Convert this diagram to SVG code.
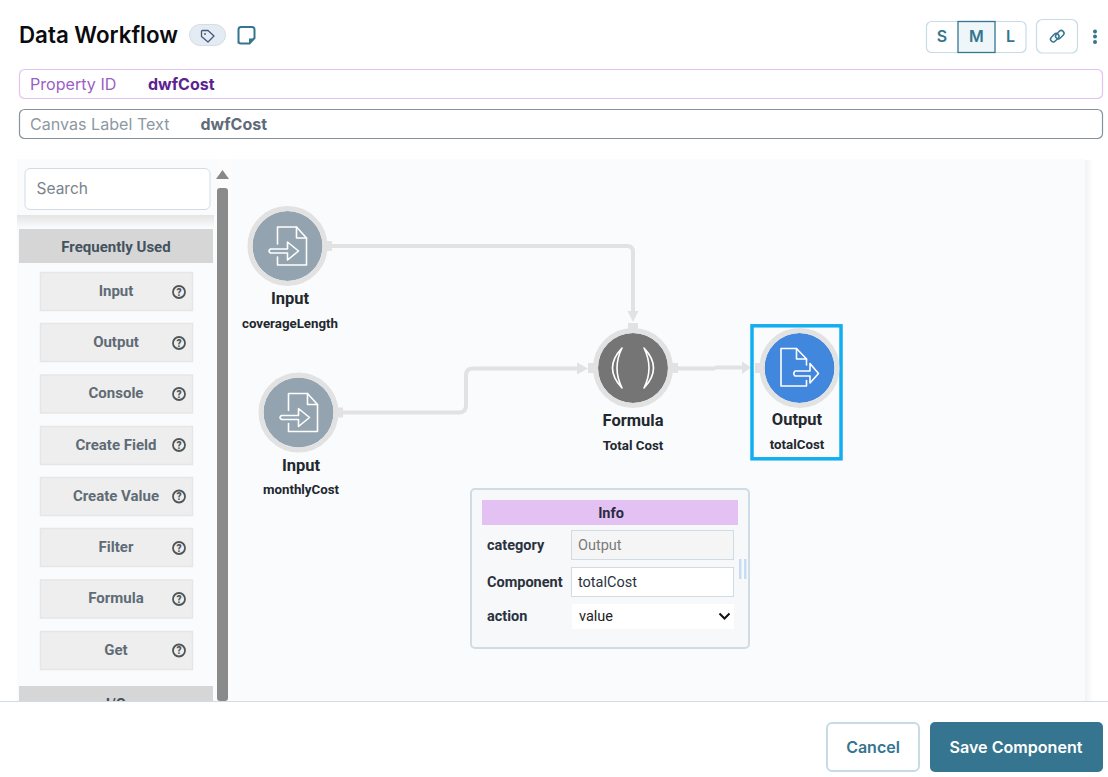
<svg xmlns="http://www.w3.org/2000/svg" width="1108" height="777" viewBox="0 0 1108 777">
<defs>
<style>
.i{font-family:Inter,"Liberation Sans",sans-serif}
.r{font-family:Roboto,"Liberation Sans",sans-serif}
.pal{fill:#eeeeee;stroke:#e6e6e6;stroke-width:1.500}
.palt{font-family:Roboto,"Liberation Sans",sans-serif;font-size:15px;font-weight:700;fill:#5f6b75;text-anchor:middle}
.help{fill:none;stroke:#4f565a;stroke-width:1.800}
.helpt{font-family:Roboto,"Liberation Sans",sans-serif;font-size:10px;font-weight:900;fill:#4f565a;text-anchor:middle}
.ring{fill:none;stroke:#e2e2e2;stroke-width:5}
.ic{fill:none;stroke:#fff;stroke-width:1.600;stroke-linejoin:round;stroke-linecap:round}
.port{fill:#e2e2e2}
.title{font-family:Roboto,"Liberation Sans",sans-serif;font-size:16.500px;font-weight:700;fill:#22282e;text-anchor:middle}
.sub{font-family:Roboto,"Liberation Sans",sans-serif;font-size:13.300px;font-weight:700;fill:#22282e;text-anchor:middle}
.conn{fill:none;stroke:#e2e2e2;stroke-width:4;stroke-linejoin:round}
.lbl{font-family:Roboto,"Liberation Sans",sans-serif;font-size:14.500px;font-weight:700;fill:#2a3240}
.val{font-family:Roboto,"Liberation Sans",sans-serif;font-size:14.500px}
.sz{font-family:Inter,"Liberation Sans",sans-serif;font-size:16px;font-weight:600;fill:#35758f;text-anchor:middle}
</style>
<linearGradient id="shadeV" x1="0" y1="0" x2="0" y2="1"><stop offset="0" stop-color="#e4e4e4"/><stop offset="1" stop-color="#fafbfd"/></linearGradient>
<linearGradient id="shadeH" x1="0" y1="0" x2="1" y2="0"><stop offset="0" stop-color="#f2f2f3"/><stop offset="1" stop-color="#ffffff"/></linearGradient>
<g id="doc-in">
<path class="ic" d="M-10 -2V-19H9L19 -8V19H-10V11"/>
<path class="ic" d="M9 -19V-8H19"/>
<path class="ic" d="M-17 3H0V-4L11 5L0 14V7H-17Q-20 5 -17 3Z"/>
</g>
</defs>
<rect width="1108" height="777" fill="#fff"/>

<g id="header">
<text class="i" x="19" y="43" font-size="22.300" font-weight="600" fill="#0b0b0f">Data Workflow</text>
<rect x="189.500" y="24.500" width="36" height="21" rx="10.500" fill="#e5ebf2" stroke="#d5dde6"/>
<path d="M201.500 31.500Q201.500 30.500 202.500 30.500H208L214 36L208 42L201.500 36.500Z" fill="none" stroke="#44597e" stroke-width="1.300" stroke-linejoin="round"/>
<circle cx="205" cy="34" r="0.900" fill="#44597e"/>
<path d="M238.500 43.500V29.500Q238.500 27 241 27H252Q254.500 27 254.500 29.500V38L249.500 43.500H241Q238.500 43.500 238.500 41Z" fill="none" stroke="#35758f" stroke-width="2"/>
<path d="M249 43.500V38.500H254.500Z" fill="#35758f"/>
<rect x="926.500" y="21.500" width="99.500" height="31" rx="5" fill="#fff" stroke="#c7dbe5" stroke-width="1.200"/>
<rect x="958" y="21.500" width="37" height="31" fill="#eef6fa" stroke="#35758f" stroke-width="1.300"/>
<text class="sz" x="942" y="42">S</text><text class="sz" x="976.500" y="42">M</text><text class="sz" x="1010.500" y="42">L</text>
<rect x="1036.500" y="19.500" width="41" height="33.500" rx="6" fill="#fff" stroke="#c7dbe5" stroke-width="1.200"/>
<g fill="none" stroke="#35758f" stroke-width="1.500"><rect x="1050" y="35" width="9.500" height="5.500" rx="2.700" transform="rotate(-45 1054.700 37.700)"/><rect x="1055" y="32" width="9.500" height="5.500" rx="2.700" transform="rotate(-45 1059.700 34.700)"/></g>
<g fill="#35758f"><circle cx="1095" cy="31.500" r="2"/><circle cx="1095" cy="36.500" r="2"/><circle cx="1095" cy="42" r="2"/></g>
<rect x="19.500" y="69.500" width="1083" height="29" rx="5" fill="#fff" stroke="#e3c3f0" stroke-width="1.200"/>
<text class="i" x="30" y="90" font-size="16.100" fill="#9a5fc4">Property ID</text>
<text class="i" x="148" y="90" font-size="16" font-weight="700" fill="#5b2390">dwfCost</text>
<rect x="19.500" y="109.500" width="1083" height="29" rx="5" fill="#fff" stroke="#86939f" stroke-width="1.200"/>
<text class="i" x="30" y="130" font-size="16.100" fill="#8d98a2">Canvas Label Text</text>
<text class="i" x="200.500" y="130" font-size="16" font-weight="700" fill="#5f6b78">dwfCost</text>
</g>

<g id="canvas">
<rect x="1085" y="160" width="8" height="541" fill="url(#shadeH)"/>
<rect x="232" y="159" width="853" height="542" fill="#fafbfd"/>
</g>

<g id="palette">
<rect x="17" y="159" width="201" height="542" fill="#fafbfd"/>
<rect x="218" y="159" width="14" height="542" fill="#fcfcfc"/>
<rect x="17" y="215" width="197" height="13" fill="url(#shadeV)"/>
<rect x="25" y="168.500" width="185" height="41" rx="5" fill="#fff" stroke="#d3dce4"/>
<text class="i" x="36.500" y="194" font-size="15.500" fill="#78838d">Search</text>
<path d="M216 179L222.500 170L229 179Z" fill="#888"/>
<rect x="217" y="188" width="11" height="513" rx="3" fill="#8a8a8a"/>
<rect x="19" y="229" width="194" height="34" fill="#d6d6d6"/>
<text x="116" y="252" text-anchor="middle" class="r" font-size="15" font-weight="700" fill="#44525f">Frequently Used</text>
<g id="pal-input"><rect class="pal" x="40.500" y="272.500" width="152" height="38"/><text class="palt" x="116" y="296">Input</text><circle class="help" cx="179" cy="292" r="6"/><text class="helpt" x="179" y="295.500">?</text></g>
<g id="pal-output"><rect class="pal" x="40.500" y="323.500" width="152" height="38"/><text class="palt" x="116" y="347">Output</text><circle class="help" cx="179" cy="343" r="6"/><text class="helpt" x="179" y="346.500">?</text></g>
<g id="pal-console"><rect class="pal" x="40.500" y="375" width="152" height="38"/><text class="palt" x="116" y="398">Console</text><circle class="help" cx="179" cy="394" r="6"/><text class="helpt" x="179" y="397.500">?</text></g>
<g id="pal-field"><rect class="pal" x="40.500" y="426.500" width="152" height="38"/><text class="palt" x="116" y="450">Create Field</text><circle class="help" cx="179" cy="445" r="6"/><text class="helpt" x="179" y="448.500">?</text></g>
<g id="pal-value"><rect class="pal" x="40.500" y="477.500" width="152" height="38"/><text class="palt" x="116" y="501">Create Value</text><circle class="help" cx="179" cy="496.500" r="6"/><text class="helpt" x="179" y="500">?</text></g>
<g id="pal-filter"><rect class="pal" x="40.500" y="528.500" width="152" height="38"/><text class="palt" x="116" y="552">Filter</text><circle class="help" cx="179" cy="548" r="6"/><text class="helpt" x="179" y="551.500">?</text></g>
<g id="pal-formula"><rect class="pal" x="40.500" y="580" width="152" height="38"/><text class="palt" x="116" y="603">Formula</text><circle class="help" cx="179" cy="599" r="6"/><text class="helpt" x="179" y="602.500">?</text></g>
<g id="pal-get"><rect class="pal" x="40.500" y="631.500" width="152" height="38"/><text class="palt" x="116" y="655">Get</text><circle class="help" cx="179" cy="650.500" r="6"/><text class="helpt" x="179" y="654">?</text></g>
<rect x="19" y="686" width="194" height="15" fill="#d6d6d6"/>
<text x="116" y="709" text-anchor="middle" class="r" font-size="15" font-weight="700" fill="#44525f">I/O</text>
</g>

<g id="connectors">
<path class="conn" d="M332 246H627Q633 246 633 252V312"/>
<path d="M627.500 311L633 322L638.500 311Z" fill="#e2e2e2"/>
<path class="conn" d="M343 412.500H459Q466 412.500 466 405.500V375.500Q466 368.500 473 368.500H578"/>
<path d="M577 362.500L588 368.500L577 374.500Z" fill="#e2e2e2"/>
<path class="conn" d="M678 368.500H715"/>
<path class="conn" d="M715 367.500H743"/>
<path d="M742 361.500L751 367.500L742 374Z" fill="#e2e2e2"/>
</g>

<g id="node-input-1">
<rect class="port" x="325" y="241" width="7" height="10"/>
<circle cx="287.500" cy="246" r="35" fill="#93a3af"/><circle class="ring" cx="287.500" cy="246" r="37.500"/>
<use href="#doc-in" x="287.500" y="246"/>
<text class="title" x="290" y="304">Input</text><text class="sub" x="290" y="328">coverageLength</text>
</g>
<g id="node-input-2">
<rect class="port" x="336" y="407.500" width="7" height="10"/>
<circle cx="298.500" cy="412.500" r="35" fill="#93a3af"/><circle class="ring" cx="298.500" cy="412.500" r="37.500"/>
<use href="#doc-in" x="298.500" y="412.500"/>
<text class="title" x="301" y="471">Input</text><text class="sub" x="301" y="494">monthlyCost</text>
</g>
<g id="node-formula">
<rect class="port" x="628" y="323" width="10" height="7"/><rect class="port" x="588" y="363" width="7" height="10"/><rect class="port" x="671" y="363" width="7" height="10"/>
<circle cx="633" cy="368" r="35" fill="#757575"/><circle class="ring" cx="633" cy="368" r="37.500"/>
<path class="ic" d="M622 348Q603 368 622 388Q612 368 622 348Z"/>
<path class="ic" d="M644 348Q663 368 644 388Q654 368 644 348Z"/>
<text class="title" x="633" y="426">Formula</text><text class="sub" x="633" y="450">Total Cost</text>
</g>
<g id="node-output">
<rect x="752" y="325.800" width="89" height="133" fill="none" stroke="#12aeef" stroke-width="3.500"/>
<rect class="port" x="755" y="363" width="7" height="10"/>
<circle cx="799.500" cy="368" r="35" fill="#4287de"/><circle class="ring" cx="799.500" cy="368" r="37.500"/>
<path class="ic" d="M806.500 365V359L796.500 348.500H781V386H806.500V380.500"/>
<path class="ic" d="M796.500 348.500V359H806.500"/>
<path class="ic" d="M795 371H810V363.500L818.500 373.500L810 383V376H795Q792.500 373.500 795 371Z"/>
<text class="title" x="797" y="425">Output</text><text class="sub" x="797" y="449">totalCost</text>
</g>

<g id="info-panel">
<rect x="471" y="489" width="278" height="159" rx="4" fill="#f7f8fa" stroke="#cfdce6" stroke-width="2"/>
<rect x="482" y="500" width="256" height="25" fill="#e3c1f3"/>
<text x="611" y="518" text-anchor="middle" class="r" font-size="14.500" font-weight="700" fill="#2a2a44">Info</text>
<text class="lbl" x="487" y="550">category</text>
<rect x="571.500" y="530.500" width="162" height="29" fill="#f5f5f5" stroke="#cfdce6"/>
<text class="val" x="578" y="550" fill="#7a7a7a">Output</text>
<text class="lbl" x="487" y="587">Component</text>
<rect x="571.500" y="567.500" width="162" height="29" fill="#fff" stroke="#cfdce6"/>
<text class="val" x="578" y="587" fill="#2a3240">totalCost</text>
<text class="lbl" x="487" y="621">action</text>
<rect x="572" y="604" width="162" height="25" fill="#fff"/>
<text class="val" x="579" y="621" fill="#222">value</text>
<path d="M719.500 613.500L724.500 618.500L729.500 613.500" fill="none" stroke="#111" stroke-width="2"/>
<rect x="739" y="559" width="2.500" height="20" fill="#c5dcf3"/><rect x="744" y="559" width="2.500" height="20" fill="#c5dcf3"/>
</g>

<g id="footer">
<rect x="0" y="701" width="1108" height="76" fill="#fff"/>
<rect x="0" y="701" width="1108" height="1" fill="#d3dce2"/>
<rect x="827" y="723" width="92" height="48" rx="5" fill="#fff" stroke="#c7dbe5" stroke-width="2"/>
<text class="i" x="873" y="753" text-anchor="middle" font-size="16" font-weight="600" fill="#35758f">Cancel</text>
<rect x="930" y="722" width="173" height="50" rx="5" fill="#35758f"/>
<text class="i" x="1016" y="753" text-anchor="middle" font-size="16.100" font-weight="600" fill="#fff">Save Component</text>
</g>
</svg>
